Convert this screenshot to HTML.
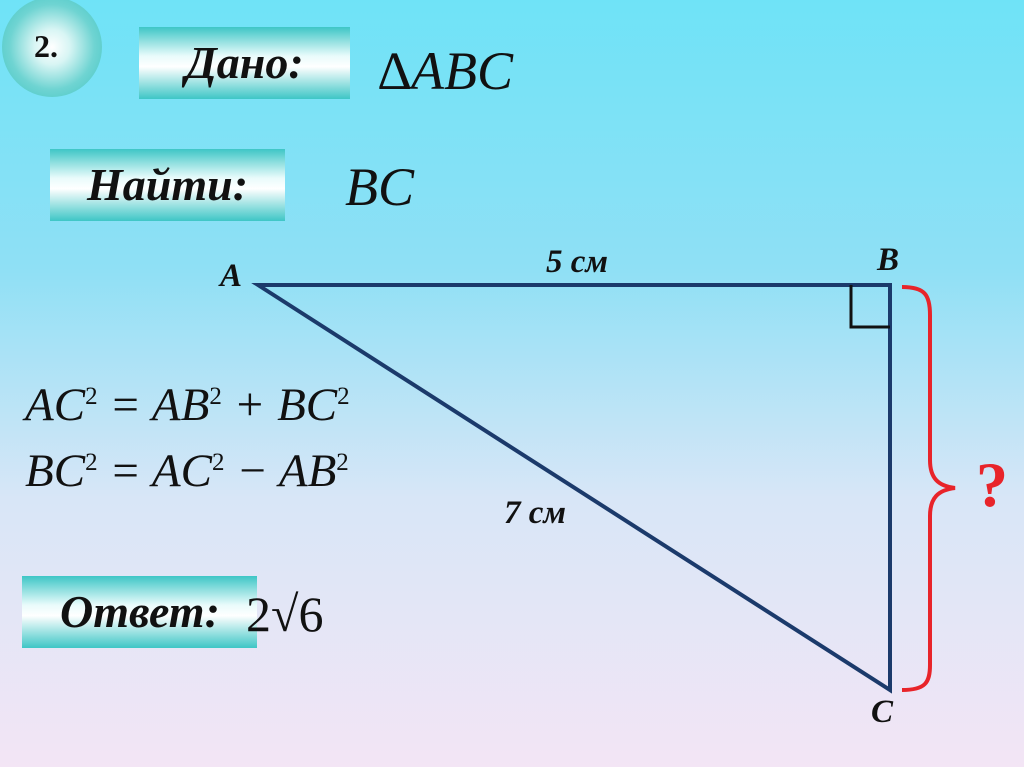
<!DOCTYPE html>
<html><head><meta charset="utf-8"><style>
body{margin:0;width:1024px;height:767px;overflow:hidden;position:relative;
background:linear-gradient(180deg,#6fe3f7 0%,#8fe0f5 35%,#d8e6f7 65%,#f3e5f5 100%);
font-family:"Liberation Serif",serif;}
.box{position:absolute;background:linear-gradient(180deg,#3ec6c6 0%,#e8fbfb 40%,#ffffff 55%,#3ec6c6 100%);
font-style:italic;font-weight:bold;font-size:46px;color:#111;text-align:center;line-height:72px;}
.t{position:absolute;white-space:nowrap;color:#111;}
.circ{position:absolute;left:2px;top:-3px;width:100px;height:100px;border-radius:50%;
background:radial-gradient(circle at 50% 50%,#ffffff 0%,#d8f5f4 25%,#6fd4d2 60%,#3cc3c2 100%);}
sup{font-size:25px;font-style:normal;position:relative;top:-8px;vertical-align:top}
</style></head><body>
<div class="circ"></div>
<div class="t" style="left:34px;top:28px;font-size:32px;font-weight:bold">2.</div>
<div class="box" style="left:139px;top:27px;width:211px;height:72px">Дано:</div>
<div class="t" style="left:378px;top:40px;font-size:54px;font-style:italic">∆ABC</div>
<div class="box" style="left:50px;top:149px;width:235px;height:72px">Найти:</div>
<div class="t" style="left:345px;top:156px;font-size:54px;font-style:italic">BC</div>
<div class="t" style="left:25px;top:378px;font-size:47px;font-style:italic;line-height:54px">AC<sup>2</sup> = AB<sup>2</sup> + BC<sup>2</sup></div>
<div class="t" style="left:25px;top:444px;font-size:47px;font-style:italic;line-height:54px">BC<sup>2</sup> = AC<sup>2</sup> − AB<sup>2</sup></div>
<div class="box" style="left:22px;top:576px;width:235px;height:72px;text-align:left;padding-left:38px;box-sizing:border-box">Ответ:</div>
<div class="t" style="left:246px;top:585px;font-size:50px">2√6</div>
<svg width="1024" height="767" style="position:absolute;left:0;top:0">
<polygon points="258,285 890,285 890,690" fill="none" stroke="#1b3a6b" stroke-width="4"/>
<polyline points="851,285 851,327 890,327" fill="none" stroke="#111" stroke-width="3"/>
<path d="M902,287 C925,287 930,295 930,315 L930,460 C930,478 938,486 955,488 C938,490 930,498 930,516 L930,665 C930,683 925,690 902,690" fill="none" stroke="#e8242a" stroke-width="4"/>
</svg>
<div class="t" style="left:976px;top:448px;font-size:64px;font-weight:bold;color:#e8242a">?</div>
<div class="t" style="left:220px;top:258px;font-size:33px;font-weight:bold;font-style:italic">A</div>
<div class="t" style="left:877px;top:242px;font-size:33px;font-weight:bold;font-style:italic">B</div>
<div class="t" style="left:871px;top:694px;font-size:33px;font-weight:bold;font-style:italic">C</div>
<div class="t" style="left:546px;top:244px;font-size:33px;font-weight:bold;font-style:italic">5 см</div>
<div class="t" style="left:504px;top:495px;font-size:33px;font-weight:bold;font-style:italic">7 см</div>
</body></html>
